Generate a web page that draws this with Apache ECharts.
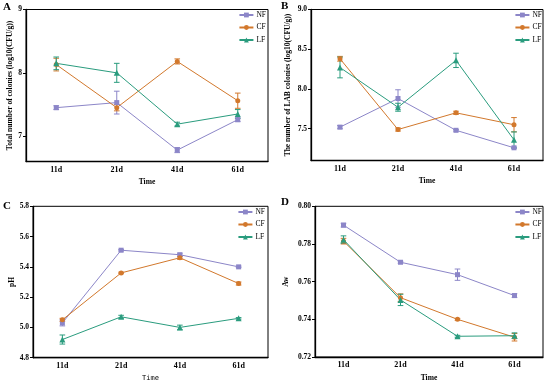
<!DOCTYPE html>
<html>
<head>
<meta charset="utf-8">
<script src="https://cdn.jsdelivr.net/npm/echarts@6/dist/echarts.min.js"></script>
<style>html,body{margin:0;padding:0;background:#fff;}#c{width:550px;height:384px;}</style>
</head>
<body>
<div id="c"></div>
<script>
const categories = ['11d', '21d', '41d', '61d'];
const seriesNames = ['NF', 'CF', 'LF'];

// Panel A: total colonies
const aNF = [7.45, 7.53, 6.78, 7.26];
const aNFerr = [0.03, 0.18, 0.04, 0.03];
const aCF = [8.13, 7.45, 8.18, 7.56];
const aCFerr = [0.10, 0.05, 0.04, 0.12];
const aLF = [8.15, 8.00, 7.19, 7.35];
const aLFerr = [0.10, 0.15, 0.03, 0.07];
const aTicks = [7, 8, 9];

// Panel B: LAB colonies
const bNF = [7.52, 7.88, 7.48, 7.26];
const bNFerr = [0.02, 0.11, 0.01, 0.01];
const bCF = [8.38, 7.49, 7.70, 7.55];
const bCFerr = [0.03, 0.02, 0.02, 0.09];
const bLF = [8.27, 7.77, 8.36, 7.36];
const bLFerr = [0.13, 0.05, 0.09, 0.10];
const bTicks = [7.5, 8.0, 8.5, 9.0];

// Panel C: pH
const cNF = [5.03, 5.51, 5.48, 5.40];
const cNFerr = [0.02, 0.005, 0.01, 0.005];
const cCF = [5.05, 5.36, 5.46, 5.29];
const cCFerr = [0.01, 0.005, 0.01, 0.01];
const cLF = [4.92, 5.07, 5.00, 5.06];
const cLFerr = [0.03, 0.01, 0.015, 0.005];
const cTicks = [4.8, 5.0, 5.2, 5.4, 5.6, 5.8];

// Panel D: Aw
const dNF = [0.7900, 0.7703, 0.7637, 0.7526];
const dNFerr = [0.001, 0.0005, 0.003, 0.001];
const dCF = [0.7815, 0.7515, 0.7400, 0.7305];
const dCFerr = [0.0015, 0.002, 0.0005, 0.002];
const dLF = [0.7823, 0.7503, 0.7310, 0.7313];
const dLFerr = [0.002, 0.003, 0.0005, 0.0015];
const dTicks = [0.72, 0.74, 0.76, 0.78, 0.80];

const colors = { NF: '#8C86C8', CF: '#D2782C', LF: '#2A9C7E' };
const symbols = { NF: 'rect', CF: 'circle', LF: 'triangle' };
const FONT = '"Liberation Serif", "Times New Roman", serif';

const panels = [
  { letter: 'A', grid: { left: 26, top: 9.5, width: 242, height: 152 }, min: 6.6, max: 9, ticks: aTicks, dec: 0,
    name: 'Total number of colonies (log10(CFU/g))', nameGap: 9, xName: 'Time', xBold: true,
    data: { NF: [aNF, aNFerr], CF: [aCF, aCFerr], LF: [aLF, aLFerr] }, legend: { right: 284, top: 11 }, lx: 3, ly: 2 },
  { letter: 'B', grid: { left: 311, top: 9.5, width: 232, height: 151 }, min: 7.1, max: 9, ticks: bTicks, dec: 1,
    name: 'The number of LAB colonies (log10(CFU/g))', nameGap: 19, xName: 'Time', xBold: true,
    data: { NF: [bNF, bNFerr], CF: [bCF, bCFerr], LF: [bLF, bLFerr] }, legend: { right: 8, top: 11 }, lx: 281, ly: 1 },
  { letter: 'C', grid: { left: 33, top: 206.3, width: 235, height: 151.4 }, min: 4.8, max: 5.8, ticks: cTicks, dec: 1,
    name: 'pH', nameGap: 14, xName: 'Time', xBold: false,
    data: { NF: [cNF, cNFerr], CF: [cCF, cCFerr], LF: [cLF, cLFerr] }, legend: { right: 285, top: 208 }, lx: 3, ly: 201 },
  { letter: 'D', grid: { left: 315, top: 206.3, width: 228, height: 150.7 }, min: 0.72, max: 0.80, ticks: dTicks, dec: 2,
    name: 'Aw', nameGap: 25, xName: 'Time', xBold: true,
    data: { NF: [dNF, dNFerr], CF: [dCF, dCFerr], LF: [dLF, dLFerr] }, legend: { right: 8, top: 208 }, lx: 281, ly: 197 }
];

const grids = [], xAxes = [], yAxes = [], lineSeries = [], errSeries = [], legends = [], graphics = [];

panels.forEach((p, i) => {
  grids.push(Object.assign({ show: true, borderColor: '#000', borderWidth: 1, backgroundColor: 'transparent' }, p.grid));
  xAxes.push({
    type: 'category', gridIndex: i, data: categories, boundaryGap: true,
    axisLine: { lineStyle: { color: '#000', width: 1.3 } },
    axisTick: { alignWithLabel: true, length: 3, lineStyle: { color: '#000' } },
    axisLabel: { color: '#000', fontFamily: FONT, fontWeight: 'bold', fontSize: 8, margin: 4 },
    name: p.xName, nameLocation: 'middle', nameGap: 17,
    nameTextStyle: { color: '#000', fontFamily: p.xBold ? FONT : '"DejaVu Sans Mono", monospace', fontWeight: p.xBold ? 'bold' : 'normal', fontSize: p.xBold ? 7.5 : 7 },
    splitLine: { show: false }
  });
  yAxes.push({
    type: 'value', gridIndex: i, min: p.min, max: p.max,
    axisLine: { show: true, lineStyle: { color: '#000', width: 1.3 } },
    axisTick: { show: true, length: 3, customValues: p.ticks, lineStyle: { color: '#000' } },
    axisLabel: { color: '#000', fontFamily: FONT, fontWeight: 'bold', fontSize: 7.5, margin: 4,
      customValues: p.ticks, formatter: v => Number(v).toFixed(p.dec) },
    splitLine: { show: false },
    name: p.name, nameLocation: 'middle', nameGap: p.nameGap, nameRotate: 90,
    nameTextStyle: { color: '#000', fontFamily: FONT, fontWeight: 'bold', fontSize: 7.5 }
  });
  seriesNames.forEach(n => {
    const vals = p.data[n][0];
    const errs = p.data[n][1];
    lineSeries.push({
      type: 'line', name: n, xAxisIndex: i, yAxisIndex: i, data: vals,
      symbol: symbols[n], symbolSize: n === 'LF' ? 6 : 5, showSymbol: true,
      lineStyle: { color: colors[n], width: 1 }, itemStyle: { color: colors[n] },
      animation: false, z: 4
    });
    errSeries.push({
      type: 'custom', name: n, xAxisIndex: i, yAxisIndex: i, silent: true,
      data: vals.map((v, k) => [k, v - errs[k], v + errs[k]]),
      encode: { x: 0, y: [1, 2] },
      renderItem: (params, api) => {
        const x = api.value(0);
        const lo = api.coord([x, api.value(1)]);
        const hi = api.coord([x, api.value(2)]);
        const w = 2.8;
        const st = { stroke: colors[n], lineWidth: 1 };
        return { type: 'group', children: [
          { type: 'line', shape: { x1: lo[0], y1: lo[1], x2: hi[0], y2: hi[1] }, style: st },
          { type: 'line', shape: { x1: lo[0] - w, y1: lo[1], x2: lo[0] + w, y2: lo[1] }, style: st },
          { type: 'line', shape: { x1: hi[0] - w, y1: hi[1], x2: hi[0] + w, y2: hi[1] }, style: st }
        ]};
      },
      z: 3
    });
  });
  legends.push({
    orient: 'vertical', right: p.legend.right, top: p.legend.top,
    data: seriesNames, itemWidth: 14, itemHeight: 6, itemGap: 4.5,
    textStyle: { fontFamily: FONT, fontSize: 7.5, color: '#000', padding: [0, 0, 0, -2] },
    padding: 0, selectedMode: false
  });
  graphics.push({ type: 'text', left: p.lx, top: p.ly,
    style: { text: p.letter, font: 'bold 11px ' + FONT, fill: '#000' } });
});

const chart = echarts.init(document.getElementById('c'), null, { renderer: 'canvas' });
chart.setOption({
  animation: false,
  backgroundColor: '#fff',
  color: [colors.NF, colors.CF, colors.LF],
  grid: grids, xAxis: xAxes, yAxis: yAxes, series: lineSeries.concat(errSeries), legend: legends, graphic: graphics
});
</script>
</body>
</html>
